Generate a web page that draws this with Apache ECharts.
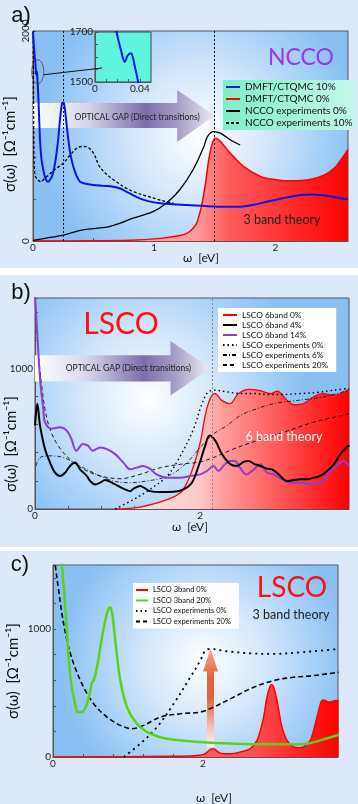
<!DOCTYPE html>
<html>
<head>
<meta charset="utf-8">
<script src="https://cdn.jsdelivr.net/npm/echarts@6/dist/echarts.min.js"></script>
<style>
  html, body { margin: 0; padding: 0; background: #fff; }
  #main { width: 358px; height: 804px; }
</style>
</head>
<body>
<div id="main"></div>
<script>
// ---- panel a) NCCO, [omega eV, sigma] ----
var nccoTheory10 = [[0,1990],[0.005,1900],[0.012,1780],[0.0193,1699],[0.023,1630],[0.0267,1585],[0.029,1605],[0.032,1612],[0.0356,1561],[0.0385,1501],[0.045,1350],[0.058,962],[0.07,780],[0.085,676],[0.105,590],[0.124,565],[0.145,590],[0.165,645],[0.19,800],[0.207,962],[0.225,1180],[0.24,1311],[0.252,1320],[0.264,1248],[0.28,1080],[0.292,962],[0.31,820],[0.333,708],[0.36,620],[0.388,565],[0.44,545],[0.498,533],[0.58,525],[0.66,517],[0.72,500],[0.77,470],[0.82,440],[0.88,406],[0.95,380],[1.05,359],[1.15,350],[1.27,343],[1.4,335],[1.52,327],[1.6,326],[1.71,327],[1.82,345],[1.93,374],[2.05,405],[2.21,438],[2.3,442],[2.37,438],[2.48,420],[2.6,397]]
var nccoTheory0 = [[0,0],[0.5,2],[0.8,6],[1.05,25],[1.2,50],[1.27,73],[1.32,120],[1.35,168],[1.37,240],[1.39,327],[1.42,517],[1.45,771],[1.48,930],[1.504,978],[1.53,965],[1.55,946],[1.63,835],[1.74,708],[1.88,613],[1.97,590],[2.07,575],[2.17,575],[2.26,581],[2.35,605],[2.43,645],[2.5,710],[2.54,771],[2.6,873]]
var nccoExp0 = [[0,5],[0.1,25],[0.25,57],[0.41,105],[0.52,120],[0.63,137],[0.72,170],[0.82,216],[0.99,279],[1.1,359],[1.21,486],[1.32,676],[1.41,898],[1.44,994],[1.49,1041],[1.55,1025],[1.63,962],[1.71,914]]
var nccoExp10 = [[0.002,2000],[0.004,1400],[0.008,800],[0.015,640],[0.02,613],[0.063,565],[0.1,600],[0.145,645],[0.19,690],[0.25,740],[0.3,810],[0.36,883],[0.4,900],[0.44,898],[0.5,835],[0.55,708],[0.63,613],[0.7,555],[0.77,502],[0.84,465],[0.91,438],[1.05,390],[1.16,359]]
var insetZoom = [[0.015,1800],[0.0193,1699],[0.023,1630],[0.0267,1580],[0.029,1605],[0.032,1615],[0.0356,1561],[0.0385,1501],[0.042,1420]]
var gapLinesA = [0.25, 1.5]

// ---- panel b) LSCO 6 band ----
var lsco6b0 = [[0.97,0],[1.27,14],[1.6,67],[1.76,115],[1.84,187],[1.92,306],[2.0,474],[2.06,665],[2.12,785],[2.18,820],[2.26,772],[2.36,749],[2.46,820],[2.59,851],[2.71,844],[2.85,820],[2.93,837],[3.05,772],[3.13,742],[3.25,749],[3.37,797],[3.49,820],[3.62,808],[3.7,820],[3.8,851]]
var lsco6b4 = [[0.0,593],[0.028,749],[0.061,593],[0.121,426],[0.182,330],[0.242,258],[0.303,235],[0.364,258],[0.424,306],[0.485,330],[0.545,282],[0.626,235],[0.667,199],[0.727,175],[0.788,187],[0.848,206],[0.929,187],[1.01,163],[1.091,139],[1.152,127],[1.192,144],[1.273,163],[1.333,146],[1.394,127],[1.515,120],[1.677,122],[1.798,139],[1.899,187],[1.98,306],[2.06,450],[2.113,522],[2.182,486],[2.263,390],[2.364,318],[2.444,306],[2.525,335],[2.586,342],[2.646,323],[2.727,306],[2.808,287],[2.869,282],[2.949,246],[3.05,199],[3.131,206],[3.212,211],[3.293,211],[3.374,223],[3.455,235],[3.535,270],[3.616,318],[3.697,390],[3.778,443],[3.806,450]]
var lsco6b14 = [[0.0,1520],[0.028,1240],[0.061,928],[0.1,713],[0.121,617],[0.2,570],[0.303,581],[0.384,557],[0.44,498],[0.5,414],[0.58,462],[0.64,450],[0.7,414],[0.788,438],[0.87,426],[0.97,390],[1.07,330],[1.15,282],[1.23,294],[1.31,306],[1.39,287],[1.47,246],[1.6,223],[1.76,223],[1.88,235],[2.0,246],[2.08,270],[2.16,306],[2.22,270],[2.28,306],[2.36,342],[2.42,342],[2.48,294],[2.56,246],[2.65,282],[2.73,318],[2.81,258],[2.89,246],[2.99,211],[3.09,187],[3.21,187],[3.33,175],[3.41,187],[3.49,199],[3.57,270],[3.65,306],[3.73,342],[3.8,306]]
var lscoExpB0 = [[0.97,0],[1.19,67],[1.39,139],[1.6,235],[1.76,378],[1.92,570],[2.0,713],[2.08,821],[2.16,845],[2.32,833],[2.48,821],[2.65,821],[2.81,814],[3.01,814],[3.21,821],[3.41,828],[3.62,845],[3.8,857]]
var lscoExpB6 = [[0.012,306],[0.061,366],[0.182,378],[0.343,366],[0.545,306],[0.747,246],[0.949,199],[1.152,187],[1.354,199],[1.556,223],[1.717,270],[1.879,354],[2.0,438],[2.162,534],[2.323,593],[2.485,665],[2.687,713],[2.889,749],[3.091,766],[3.293,780],[3.495,797],[3.697,828],[3.806,845]]
var lscoExpB20 = [[0,1520],[0.04,1120],[0.08,881],[0.12,713],[0.18,570],[0.28,450],[0.42,354],[0.59,282],[0.79,235],[1.03,215],[1.27,246],[1.52,294],[1.76,318],[2.0,335],[2.16,366],[2.4,426],[2.65,479],[2.89,522],[3.13,570],[3.37,617],[3.62,653],[3.8,677]]
var gapLineB = 2.14

// ---- panel c) LSCO 3 band ----
var lsco3b0 = [[0,0],[1.0,2],[1.5,5],[1.8,8],[1.96,13],[2.03,26],[2.1,60],[2.14,65],[2.2,40],[2.25,28],[2.364,26],[2.498,39],[2.631,65],[2.72,130],[2.77,220],[2.809,312],[2.853,468],[2.898,558],[2.92,565],[2.942,545],[2.987,442],[3.02,330],[3.053,234],[3.12,130],[3.209,78],[3.28,72],[3.342,78],[3.431,130],[3.48,220],[3.52,312],[3.573,429],[3.6,445],[3.631,442],[3.66,432],[3.698,429],[3.764,442],[3.808,442]]
var lsco3b20 = [[0.11,1560],[0.12,1494],[0.164,1169],[0.208,779],[0.245,560],[0.275,468],[0.3,400],[0.33,351],[0.386,351],[0.453,416],[0.507,545],[0.52,584],[0.542,597],[0.587,701],[0.653,935],[0.711,1104],[0.756,1169],[0.787,1130],[0.831,909],[0.898,597],[0.987,390],[1.12,260],[1.298,182],[1.52,143],[1.964,117],[2.41,104],[2.853,99],[3.164,99],[3.387,104],[3.564,130],[3.808,174]]
var lscoExpC0 = [[0.942,0],[1.164,104],[1.387,234],[1.609,416],[1.831,623],[1.964,753],[2.031,831],[2.098,844],[2.32,826],[2.631,810],[2.942,805],[3.298,818],[3.564,831],[3.808,844]]
var lscoExpC20 = [[0.02,1560],[0.031,1494],[0.076,1299],[0.12,1117],[0.187,909],[0.276,727],[0.409,545],[0.542,416],[0.72,312],[0.898,247],[1.053,221],[1.209,247],[1.431,312],[1.698,338],[1.964,351],[2.142,390],[2.409,468],[2.676,545],[2.942,597],[3.209,623],[3.476,636],[3.808,662]]

var FONT = 'Lato'
var myChart = echarts.init(document.getElementById('main'))

function plotBg (cx, cy) {
  return {
    type: 'radial', x: cx, y: cy, r: 0.75,
    colorStops: [
      { offset: 0, color: '#ffffff' },
      { offset: 0.45, color: '#d0e5fb' },
      { offset: 1, color: '#88c0f4' }
    ]
  }
}
function hGrad (stops) {
  return { type: 'linear', x: 0, y: 0, x2: 1, y2: 0, colorStops: stops }
}
function xAx (grid, max, interval, labels) {
  return {
    type: 'value', gridIndex: grid, min: 0, max: max, interval: interval,
    axisLine: { show: true, onZero: false, lineStyle: { color: '#555' } },
    axisTick: { inside: true, length: 3, lineStyle: { color: '#555' } },
    splitLine: { show: false },
    axisLabel: {
      margin: 2, fontSize: 10, color: '#222', fontFamily: FONT, showMaxLabel: false,
      formatter: function (v) {
        for (var i = 0; i < labels.length; i++) if (Math.abs(v - labels[i]) < 1e-6) return String(labels[i])
        return ''
      }
    }
  }
}
function yAx (grid, max, interval, labels, rot) {
  return {
    type: 'value', gridIndex: grid, min: 0, max: max, interval: interval,
    axisLine: { show: true, lineStyle: { color: '#555' } },
    axisTick: { inside: true, length: 3, lineStyle: { color: '#555' } },
    splitLine: { show: false },
    axisLabel: {
      margin: 2, fontSize: 10, color: '#222', fontFamily: FONT, rotate: rot || 0,
      formatter: function (v) { return labels.indexOf(v) >= 0 ? String(v) : '' }
    }
  }
}
function line (name, xi, data, color, width, type, extra) {
  var s = {
    name: name, type: 'line', xAxisIndex: xi, yAxisIndex: xi, data: data,
    symbol: 'none', smooth: 0.35, clip: true, silent: true,
    lineStyle: { color: color, width: width, type: type || 'solid' },
    itemStyle: { color: color }
  }
  if (extra) for (var k in extra) s[k] = extra[k]
  return s
}
function vLines (vals, color) {
  return {
    silent: true, symbol: 'none', label: { show: false },
    lineStyle: { color: color, type: [2, 2], width: 1 },
    data: vals.map(function (v) { return { xAxis: v } })
  }
}
// legend shows only the line, no symbol
var noSymbol = { opacity: 0 }

myChart.setOption({
  animation: false,
  backgroundColor: '#ffffff',
  grid: [
    { left: 33, top: 31, width: 315, height: 210, show: true, borderColor: '#555', borderWidth: 1, backgroundColor: plotBg(0.53, 0.5) },
    { left: 35, top: 298, width: 314, height: 211, show: true, borderColor: '#555', borderWidth: 1, backgroundColor: plotBg(0.36, 0.48) },
    { left: 53, top: 565, width: 285, height: 192, show: true, borderColor: '#555', borderWidth: 1, backgroundColor: plotBg(0.53, 0.5) },
    { left: 95, top: 32, width: 56, height: 50, show: true, borderColor: '#444', borderWidth: 1, backgroundColor: '#5ff5df', z: 3 }
  ],
  xAxis: [
    xAx(0, 2.6, 0.5, [0, 1, 2]),
    xAx(1, 3.8, 0.4, [0, 2]),
    xAx(2, 3.8, 0.4, [0, 2]),
    Object.assign(xAx(3, 0.05, 0.01, [0, 0.04]), { z: 3 })
  ],
  yAxis: [
    yAx(0, 2000, 400, [0, 2000], 90),
    yAx(1, 1500, 200, [0, 1000]),
    yAx(2, 1500, 200, [0, 1000]),
    Object.assign(yAx(3, 1700, 50, [1500, 1700]), { min: 1500, z: 3 })
  ],
  legend: [
    {
      orient: 'vertical', left: 223, top: 80, padding: [2, 3, 2, 2],
      itemWidth: 14, itemHeight: 8, itemGap: 2, selectedMode: false, itemStyle: noSymbol,
      backgroundColor: hGrad([{ offset: 0, color: '#7eefc6' }, { offset: 1, color: '#c4f7ea' }]),
      textStyle: { fontFamily: FONT, fontSize: 10, color: '#111', lineHeight: 9 },
      data: ['DMFT/CTQMC 10%', 'DMFT/CTQMC 0%', 'NCCO experiments 0%', 'NCCO experiments 10%']
    },
    {
      orient: 'vertical', left: 218, top: 308, padding: [3, 8, 3, 4],
      itemWidth: 14, itemHeight: 7, itemGap: 2, selectedMode: false, itemStyle: noSymbol,
      backgroundColor: '#ffffff',
      textStyle: { fontFamily: FONT, fontSize: 8.3, color: '#111', lineHeight: 8 },
      data: ['LSCO 6band 0%', 'LSCO 6band 4%', 'LSCO 6band 14%', 'LSCO experiments 0%', 'LSCO experiments 6%', 'LSCO experiments 20%']
    },
    {
      orient: 'vertical', left: 133, top: 583, padding: [3, 8, 3, 2],
      itemWidth: 12, itemHeight: 6, itemGap: 2.5, selectedMode: false, itemStyle: noSymbol,
      backgroundColor: '#ffffff',
      textStyle: { fontFamily: FONT, fontSize: 7.5, color: '#111', lineHeight: 7 },
      data: ['LSCO 3band 0%', 'LSCO 3band 20%', 'LSCO experiments 0%', 'LSCO experiments 20%']
    }
  ],
  series: [
    // a)
    line('DMFT/CTQMC 0%', 0, nccoTheory0, '#ff0000', 1.5, 'solid', {
      areaStyle: { opacity: 1, color: hGrad([{ offset: 0, color: '#ffb0b0' }, { offset: 0.52, color: '#ff9a9a' }, { offset: 0.62, color: '#ff5c5c' }, { offset: 1, color: '#ff0000' }]) },
      markLine: vLines(gapLinesA, '#111')
    }),
    line('NCCO experiments 0%', 0, nccoExp0, '#000000', 1.3),
    line('NCCO experiments 10%', 0, nccoExp10, '#000000', 1.3, [3, 2]),
    line('DMFT/CTQMC 10%', 0, nccoTheory10, '#0a14e6', 2),
    Object.assign(line('inset', 3, insetZoom, '#0a14e6', 2), { z: 4 }),
    // b)
    line('LSCO 6band 0%', 1, lsco6b0, '#ff0000', 1.3, 'solid', {
      areaStyle: { opacity: 1, color: hGrad([{ offset: 0, color: '#ffeaea' }, { offset: 0.36, color: '#ffc8c8' }, { offset: 0.45, color: '#ffa0a0' }, { offset: 1, color: '#ff0000' }]) },
      markLine: vLines([gapLineB], '#888')
    }),
    line('LSCO experiments 0%', 1, lscoExpB0, '#000000', 1.4, [1.5, 3]),
    line('LSCO experiments 6%', 1, lscoExpB6, '#000000', 0.8, [4, 2, 1, 2]),
    line('LSCO experiments 20%', 1, lscoExpB20, '#000000', 0.9, [4, 3]),
    line('LSCO 6band 14%', 1, lsco6b14, '#8a3fd0', 2),
    line('LSCO 6band 4%', 1, lsco6b4, '#000000', 2),
    // c)
    line('LSCO 3band 0%', 2, lsco3b0, '#ff0000', 1.5, 'solid', {
      areaStyle: { opacity: 1, color: hGrad([{ offset: 0, color: '#ff8080' }, { offset: 0.7, color: '#ff5050' }, { offset: 1, color: '#ff0000' }]) }
    }),
    line('LSCO experiments 0%', 2, lscoExpC0, '#000000', 1.8, [2, 4]),
    line('LSCO experiments 20%', 2, lscoExpC20, '#000000', 1.6, [5, 3]),
    line('LSCO 3band 20%', 2, lsco3b20, '#5ad21a', 2.5)
  ]
})

// annotations placed in data coordinates
function px (g, x, y) { return myChart.convertToPixel({ gridIndex: g }, [x, y]) }
function hArrow (g, x0, xHead, xTip, yTop, yBot, yHTop, yHBot, yMid) {
  var a = px(g, x0, yTop), b = px(g, xHead, yTop), c = px(g, xHead, yHTop), d = px(g, xTip, yMid)
  var e = px(g, xHead, yHBot), f = px(g, xHead, yBot), h = px(g, x0, yBot)
  return {
    type: 'polygon', z: 1, silent: true,
    shape: { points: [a, b, c, d, e, f, h] },
    style: {
      fill: hGrad([
        { offset: 0, color: '#ffffff' }, { offset: 0.3, color: '#d6d6ea' },
        { offset: 0.62, color: '#7d6eab' }, { offset: 0.8, color: '#a79ec8' }, { offset: 1, color: '#eeecf5' }
      ])
    }
  }
}
function txt (x, y, text, size, color, extra, family) {
  var t = {
    type: 'text', x: x, y: y, z: 10, silent: true,
    style: { text: text, fontSize: size, fill: color, fontFamily: family || FONT, align: 'center', verticalAlign: 'middle' }
  }
  if (extra) for (var k in extra) t[k] = extra[k]
  return t
}

var gA = hArrow(0, 0, 1.19, 1.5, 1314, 1076, 1438, 943, 1195)
var gB = hArrow(1, 0, 1.64, 2.12, 1093, 907, 1195, 807, 1000)
var cTop = px(2, 2.1, 847), cHead = px(2, 2.1, 667), cBot = px(2, 2.1, 76)
var arrowC = {
  type: 'polygon', z: 1, silent: true,
  shape: { points: [[cTop[0], cTop[1]], [cTop[0] + 7.5, cHead[1]], [cTop[0] + 3.5, cHead[1]], [cTop[0] + 3.5, cBot[1]], [cTop[0] - 3.5, cBot[1]], [cTop[0] - 3.5, cHead[1]], [cTop[0] - 7.5, cHead[1]]] },
  style: {
    fill: { type: 'linear', x: 0, y: 0, x2: 0, y2: 1, colorStops: [
      { offset: 0, color: '#f3a890' }, { offset: 0.3, color: '#e2643a' }, { offset: 0.5, color: '#e0623a' },
      { offset: 0.8, color: '#f4c2b2' }, { offset: 1, color: '#fff4f0' }] }
  }
}
var circ = px(0, 0.039, 1612)
var tA = px(0, 0.86, 1180), tB = px(1, 1.13, 1000)

myChart.setOption({
  graphic: [
    { type: 'rect', z: -10, silent: true, shape: { x: 0, y: 0, width: 358, height: 268 }, style: { fill: '#dde8fa' } },
    { type: 'rect', z: -10, silent: true, shape: { x: 0, y: 275, width: 358, height: 272 }, style: { fill: '#dde8fa' } },
    { type: 'rect', z: -10, silent: true, shape: { x: 0, y: 551, width: 358, height: 253 }, style: { fill: '#dde8fa' } },
    gA, gB, arrowC,
    txt(tA[0], tA[1], 'OPTICAL GAP (Direct transitions)', 8.5, '#222'),
    txt(tB[0], tB[1], 'OPTICAL GAP (Direct transitions)', 8.5, '#222'),
    { type: 'ellipse', z: 10, silent: true, shape: { cx: circ[0], cy: circ[1], rx: 6, ry: 12 }, style: { fill: null, stroke: '#444', lineWidth: 0.8 } },
    { type: 'line', z: 10, silent: true, shape: { x1: circ[0] + 6, y1: circ[1] + 3, x2: 102, y2: 68 }, style: { stroke: '#111', lineWidth: 1 } },
    txt(21, 16, 'a)', 22, '#111', null, 'Liberation Sans'),
    txt(21, 293, 'b)', 22, '#111', null, 'Liberation Sans'),
    txt(20, 565, 'c)', 22, '#111', null, 'Liberation Sans'),
    txt(301, 58, 'NCCO', 23, '#9b35f0'),
    txt(121, 324, 'LSCO', 30, '#ff1010'),
    txt(292, 588, 'LSCO', 28, '#ff1010'),
    txt(282, 220, '3 band theory', 12.5, '#222'),
    txt(284, 437, '6 band theory', 12.5, '#ffffff'),
    txt(291, 615, '3 band theory', 12.5, '#222'),
    txt(201, 258, 'ω  [eV]', 12, '#111'),
    txt(190, 527, 'ω  [eV]', 12, '#111'),
    txt(214, 798, 'ω  [eV]', 12, '#111'),
    txt(10, 144, 'σ(ω)  [Ω⁻¹cm⁻¹]', 15, '#111', { rotation: Math.PI / 2 }),
    txt(11, 444, 'σ(ω)  [Ω⁻¹cm⁻¹]', 15, '#111', { rotation: Math.PI / 2 }),
    txt(13, 671, 'σ(ω)  [Ω⁻¹cm⁻¹]', 15, '#111', { rotation: Math.PI / 2 })
  ]
})
</script>
</body>
</html>
